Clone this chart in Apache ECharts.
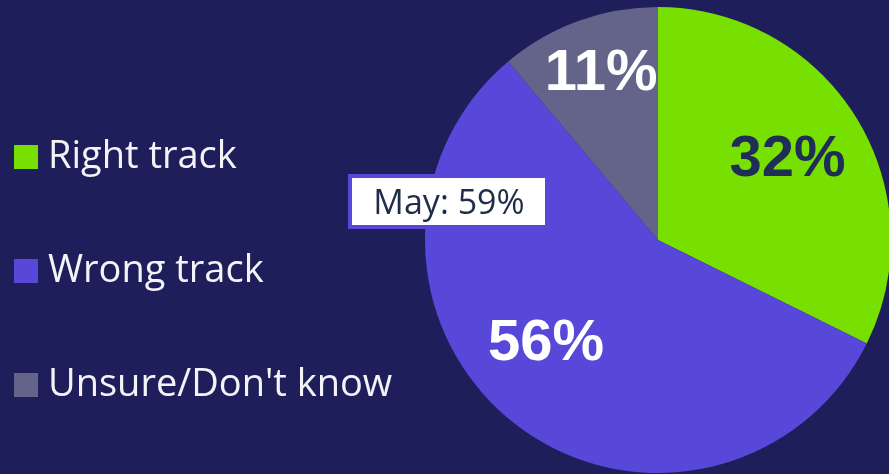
<!DOCTYPE html>
<html lang="en">
<head>
    <meta charset="UTF-8">
    <title>Right track / Wrong track</title>
    <script src="https://cdn.jsdelivr.net/npm/echarts@6/dist/echarts.min.js"></script>
    <style>
      html, body { margin: 0; padding: 0; background: #1e1f5a; }
    </style>
</head>
<body>
<div id="main" style="width: 889px;height: 474px"></div>
<script type="text/javascript">
  var categories = ['Right track', 'Wrong track', "Unsure/Don't know"];
  var values = [32, 56, 11];
  var colors = ['#77e000', '#5848da', '#64648a'];
  var labelColors = ['#1f2d57', '#ffffff', '#ffffff'];
  // nudges for the inside labels, as in the original slide
  var labelShift = [[28, -17], [-38, 10], [-16, -54]];
  var calloutText = 'May: 59%';

  var myChart = echarts.init(document.getElementById('main'));

  var pieData = [];
  for (var i = 0; i < categories.length; i++) {
    pieData.push({
      name: categories[i],
      value: values[i],
      itemStyle: { color: colors[i] },
      label: { color: labelColors[i] }
    });
  }

  var option = {
    backgroundColor: '#1e1f5a',
    animation: false,
    legend: {
      orient: 'vertical',
      left: 14,
      top: 138,
      padding: 0,
      itemWidth: 24,
      itemHeight: 24,
      itemGap: 76,
      icon: 'rect',
      data: categories,
      textStyle: {
        color: '#f4f4f8',
        fontSize: 38,
        fontFamily: 'Open Sans',
        padding: [0, 0, 0, 5]
      }
    },
    series: [{
      type: 'pie',
      center: [658, 240],
      radius: 233,
      startAngle: 90,
      clockwise: true,
      label: {
        show: true,
        position: 'inside',
        formatter: '{c}%',
        fontSize: 58,
        fontWeight: 'bold',
        fontFamily: 'Liberation Sans'
      },
      labelLine: { show: false },
      labelLayout: function (params) {
        var s = labelShift[params.dataIndex];
        return { dx: s[0], dy: s[1] };
      },
      emphasis: { disabled: true },
      data: pieData
    }],
    graphic: [{
      type: 'rect',
      shape: { x: 350, y: 176, width: 197, height: 51 },
      style: { fill: '#ffffff', stroke: '#5848da', lineWidth: 4 },
      z: 100
    }, {
      type: 'text',
      x: 449,
      y: 204,
      style: {
        text: calloutText,
        fill: '#1f2d4a',
        fontSize: 34,
        fontFamily: 'Open Sans',
        align: 'center',
        verticalAlign: 'middle'
      },
      z: 101
    }]
  };
  myChart.setOption(option);
</script>
</body>
</html>
